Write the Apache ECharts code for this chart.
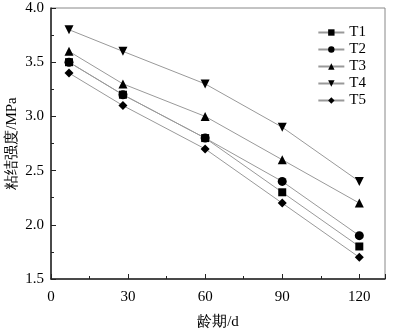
<!DOCTYPE html>
<html><head><meta charset="utf-8">
<script src="https://cdn.jsdelivr.net/npm/echarts@6/dist/echarts.min.js"></script>
<style>html,body{margin:0;padding:0;background:#fff}#c{width:395px;height:331px}</style>
</head><body><div id="c"></div>
<script>
const ages = [7, 28, 60, 90, 120];
const T1 = [3.5, 3.2, 2.8, 2.3, 1.8];
const T2 = [3.5, 3.2, 2.8, 2.4, 1.9];
const T3 = [3.6, 3.3, 3.0, 2.6, 2.2];
const T4 = [3.8, 3.6, 3.3, 2.9, 2.4];
const T5 = [3.4, 3.1, 2.7, 2.2, 1.7];
const names = ['T1','T2','T3','T4','T5'];
const values = [T1,T2,T3,T4,T5];
const symbols = ['rect','circle','triangle','triangle','diamond'];
const rotates = [0,0,0,180,0];
const sizes = [8,9,9,9,9];
const font = '"Liberation Serif","Times New Roman",serif';
const chart = echarts.init(document.getElementById('c'));
chart.setOption({
  animation:false,
  textStyle:{fontFamily:font},
  grid:{left:51,right:10,top:8,bottom:52,show:true,borderColor:'#888',borderWidth:1,
    containLabel:false,outerBoundsMode:'none'},
  legend:{orient:'vertical',right:24,top:19,itemWidth:26,itemHeight:8,itemGap:0,
    textStyle:{fontFamily:font,fontSize:15,color:'#000',lineHeight:17},data:names},
  xAxis:{type:'value',min:0,max:130,interval:30,
    name:'龄期/d',nameLocation:'middle',nameGap:36,nameMoveOverlap:false,
    nameTextStyle:{fontFamily:font,fontSize:15,color:'#000'},
    axisLine:{show:true,lineStyle:{color:'#222',width:1.5}},
    axisTick:{inside:true,length:5,lineStyle:{color:'#222'}},
    minorTick:{show:true,splitNumber:2,length:3,lineStyle:{color:'#222'}},
    splitLine:{show:false},
    axisLabel:{fontFamily:font,fontSize:15,color:'#000',margin:11,
      formatter:v=>v>120?'':String(v)}},
  yAxis:{type:'value',min:1.5,max:4.0,interval:0.5,
    name:'粘结强度/MPa',nameLocation:'middle',nameGap:31,nameMoveOverlap:false,
    nameTextStyle:{fontFamily:font,fontSize:15,color:'#000'},
    axisLine:{show:true,lineStyle:{color:'#222',width:1.5}},
    axisTick:{inside:true,length:5,lineStyle:{color:'#222'}},
    minorTick:{show:true,splitNumber:2,length:3,lineStyle:{color:'#222'}},
    splitLine:{show:false},
    axisLabel:{fontFamily:font,fontSize:15,color:'#000',margin:7,formatter:v=>v.toFixed(1)}},
  series: names.map((n,i)=>({
    name:n,type:'line',
    data:ages.map((a,j)=>[a,values[i][j]]),
    symbol:symbols[i],symbolRotate:rotates[i],symbolSize:sizes[i],
    lineStyle:{color:'#999',width:1},
    itemStyle:{color:'#000',borderWidth:0},
    emphasis:{disabled:true}
  }))
});
</script></body></html>
